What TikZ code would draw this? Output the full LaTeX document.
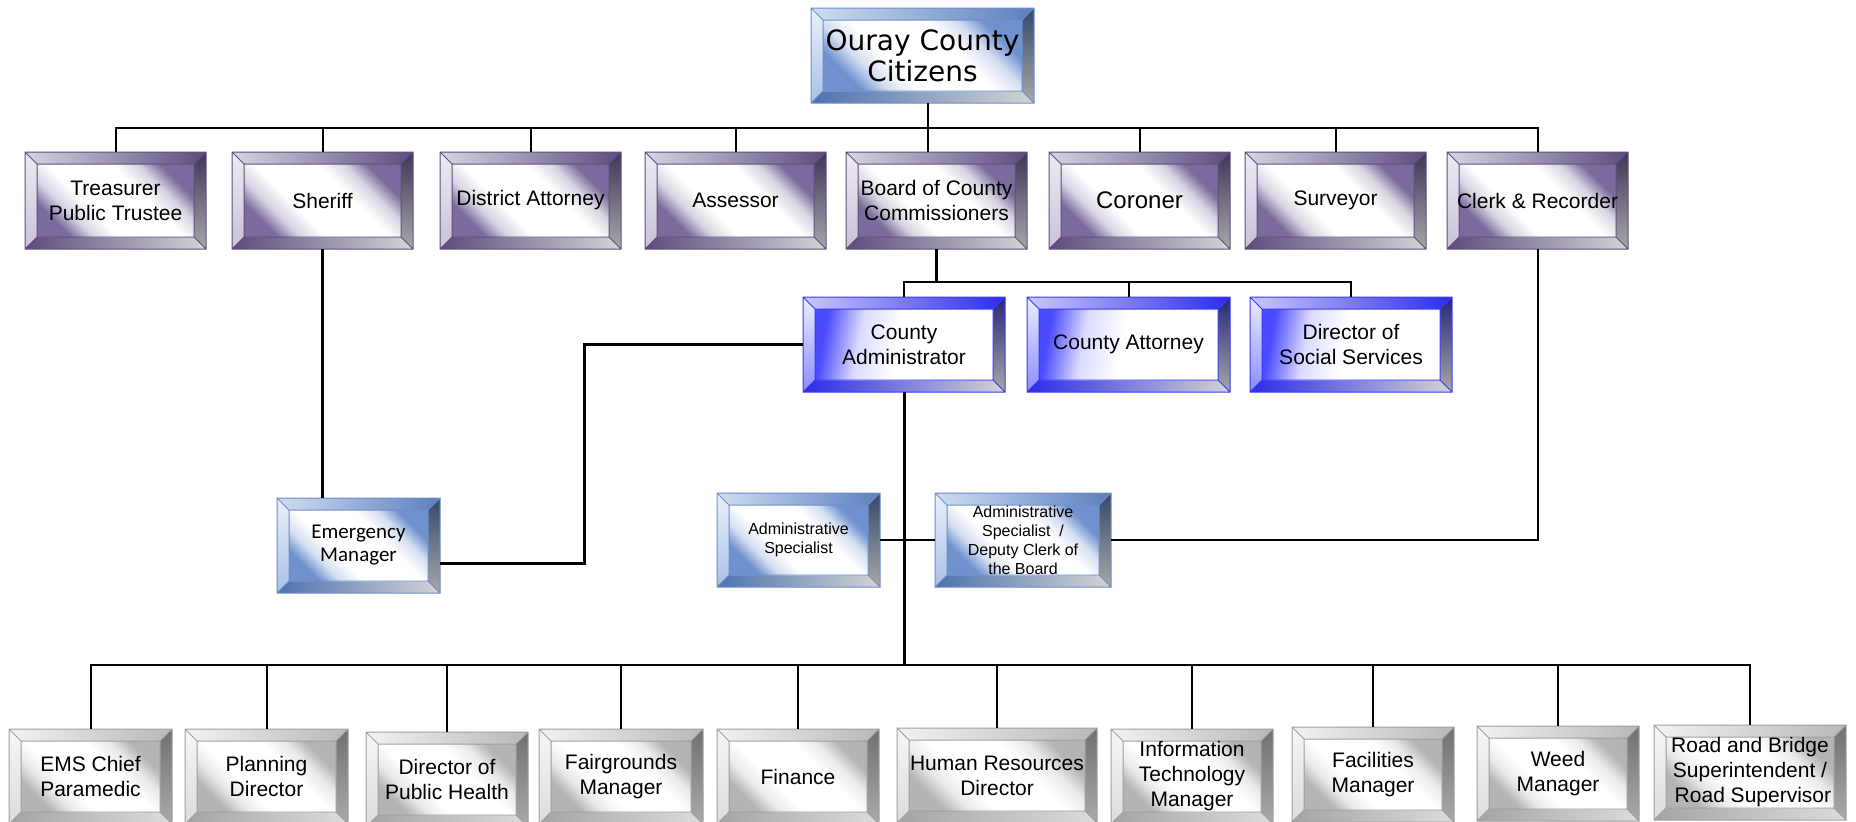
\documentclass[tikz,border=0pt]{standalone}
\usepackage{fontspec}
\setmainfont{Liberation Sans}
\newfontfamily\verd{DejaVu Sans}
\newfontfamily\calib{Carlito}
% purple group
\definecolor{puLN}{HTML}{5F5080}
\definecolor{puTL}{HTML}{D8D3E2}\definecolor{puTR}{HTML}{5C4B7E}
\definecolor{puLT}{HTML}{EEEBF3}\definecolor{puLB}{HTML}{C9C1D9}
\definecolor{puRT}{HTML}{3F3458}\definecolor{puRB}{HTML}{A8A8A8}
\definecolor{puBL}{HTML}{5C4B7E}\definecolor{puBR}{HTML}{D4D4D4}
\definecolor{puF}{HTML}{7A6B9C}
% steel blue group
\definecolor{sbLN}{HTML}{6F8FC8}
\definecolor{sbTL}{HTML}{D0DDF2}\definecolor{sbTR}{HTML}{5B7FBD}
\definecolor{sbLT}{HTML}{EAF0FA}\definecolor{sbLB}{HTML}{A9C0E6}
\definecolor{sbRT}{HTML}{34496B}\definecolor{sbRB}{HTML}{A8A8A8}
\definecolor{sbBL}{HTML}{4D72B0}\definecolor{sbBR}{HTML}{D4D4D4}
\definecolor{sbF}{HTML}{6F92CF}
% bright blue group
\definecolor{bbLN}{HTML}{3A3AF5}
\definecolor{bbTL}{HTML}{C8C8FF}\definecolor{bbTR}{HTML}{2B2BE8}
\definecolor{bbLT}{HTML}{ECECFF}\definecolor{bbLB}{HTML}{8A8AFF}
\definecolor{bbRT}{HTML}{26267A}\definecolor{bbRB}{HTML}{A8A8A8}
\definecolor{bbBL}{HTML}{2B2BE8}\definecolor{bbBR}{HTML}{D4D4D4}
\definecolor{bbF}{HTML}{4A4AFF}
% gray group
\definecolor{grLN}{HTML}{A0A0A0}
\definecolor{grTL}{HTML}{F2F2F2}\definecolor{grTR}{HTML}{B8B8B8}
\definecolor{grLT}{HTML}{F6F6F6}\definecolor{grLB}{HTML}{DCDCDC}
\definecolor{grRT}{HTML}{707070}\definecolor{grRB}{HTML}{AAAAAA}
\definecolor{grBL}{HTML}{A4A4A4}\definecolor{grBR}{HTML}{DCDCDC}
\definecolor{grF}{HTML}{B4B4B4}
\colorlet{puFl}{puF!30!white}
\colorlet{sbFl}{sbF!30!white}
\colorlet{grFl}{grF!30!white}
\colorlet{bbFl}{bbF!20!white}
\pgfdeclareverticalshading{pudiag}{100bp}{color(0bp)=(puF); color(25bp)=(puF); color(32bp)=(puFl); color(40bp)=(white); color(60bp)=(white); color(68bp)=(puFl); color(75bp)=(puF); color(100bp)=(puF)}
\pgfdeclareverticalshading{sbdiag}{100bp}{color(0bp)=(sbF); color(25bp)=(sbF); color(32bp)=(sbFl); color(40bp)=(white); color(60bp)=(white); color(68bp)=(sbFl); color(75bp)=(sbF); color(100bp)=(sbF)}
\pgfdeclareverticalshading{grdiag}{100bp}{color(0bp)=(grF); color(25bp)=(grF); color(32bp)=(grFl); color(40bp)=(white); color(60bp)=(white); color(68bp)=(grFl); color(75bp)=(grF); color(100bp)=(grF)}
\pgfdeclareverticalshading{bbdiag}{100bp}{color(0bp)=(white); color(52bp)=(white); color(64bp)=(bbFl); color(75bp)=(bbF); color(100bp)=(bbF)}
\tikzset{
  puface/.style={shading=pudiag, shading angle=-45},
  sbface/.style={shading=sbdiag, shading angle=-45},
  bbface/.style={shading=bbdiag, shading angle=80},
  grface/.style={shading=grdiag, shading angle=-45},
  conn/.style={line width=1pt, black},
  heavy/.style={line width=1.5pt, black},
}
\newcommand\fA{\fontsize{10.5}{12.5}\selectfont}
\newcommand\fCit{\verd\fontsize{14}{15.5}\selectfont}
\newcommand\fBig{\fontsize{12}{14}\selectfont}
\newcommand\fEm{\calib\fontsize{10.5}{11.5}\selectfont}
\newcommand\fSm{\fontsize{8}{9.5}\selectfont}
\newcommand\bevbox[8]{%
  \def\bv{12}%
  \shade[left color=#6TL, right color=#6TR] (#2,#3) -- (#4,#3) -- ({#4-\bv},{#3+\bv}) -- ({#2+\bv},{#3+\bv}) -- cycle;
  \shade[top color=#6LT, bottom color=#6LB] (#2,#3) -- ({#2+\bv},{#3+\bv}) -- ({#2+\bv},{#5-\bv}) -- (#2,#5) -- cycle;
  \shade[top color=#6RT, bottom color=#6RB] (#4,#3) -- (#4,#5) -- ({#4-\bv},{#5-\bv}) -- ({#4-\bv},{#3+\bv}) -- cycle;
  \shade[left color=#6BL, right color=#6BR] (#2,#5) -- ({#2+\bv},{#5-\bv}) -- ({#4-\bv},{#5-\bv}) -- (#4,#5) -- cycle;
  \shade[#6face] ({#2+\bv},{#3+\bv}) rectangle ({#4-\bv},{#5-\bv});
  \draw[#6LN, line width=0.5pt] (#2,#3) rectangle (#4,#5)
     ({#2+\bv},{#3+\bv}) rectangle ({#4-\bv},{#5-\bv})
     (#2,#3) -- ({#2+\bv},{#3+\bv}) (#4,#3) -- ({#4-\bv},{#3+\bv})
     (#2,#5) -- ({#2+\bv},{#5-\bv}) (#4,#5) -- ({#4-\bv},{#5-\bv});
  \node[minimum width={(#4-#2)*0.5pt}, minimum height={(#5-#3)*0.5pt}, inner sep=0pt,
        align=center, font=#7, text=black] (#1) at ({(#2+#4)/2},{(#3+#5)/2}) {#8};
}
\begin{document}
\begin{tikzpicture}[x=0.5pt, y=-0.5pt]
\useasboundingbox (0,0) rectangle (1856,821);
\fill[white] (0,0) rectangle (1856,821);
\clip (0,0) rectangle (1856,821);
% top
\bevbox{cit}{811}{8}{1034}{103}{sb}{\fCit}{Ouray County\\Citizens}
% row 1
\bevbox{trea}{25}{152}{206}{249}{pu}{\fA}{Treasurer\\Public Trustee}
\bevbox{sher}{232}{152}{413}{249}{pu}{\fA}{Sheriff}
\bevbox{da}{440}{152}{621}{249}{pu}{\fA}{District Attorney}
\bevbox{asse}{645}{152}{826}{249}{pu}{\fA}{Assessor}
\bevbox{board}{846}{152}{1027}{249}{pu}{\fA}{Board of County\\Commissioners}
\bevbox{coro}{1049}{152}{1230}{249}{pu}{\fBig}{Coroner}
\bevbox{surv}{1245}{152}{1426}{249}{pu}{\fA}{Surveyor}
\bevbox{clerk}{1447}{152}{1628}{249}{pu}{\fA}{Clerk \& Recorder}
% row 2
\bevbox{admin}{803}{297}{1005}{392}{bb}{\fA}{County\\Administrator}
\bevbox{atty}{1027}{297}{1230}{392}{bb}{\fA}{County Attorney}
\bevbox{social}{1250}{297}{1452}{392}{bb}{\fA}{Director of\\Social Services}
% middle
\bevbox{emer}{277}{498}{440}{593}{sb}{\fEm}{Emergency\\Manager}
\bevbox{adms}{717}{493}{880}{587}{sb}{\fSm}{Administrative\\Specialist}
\bevbox{dep}{935}{493}{1111}{587}{sb}{\fSm}{Administrative\\Specialist~~/\\Deputy Clerk of\\the Board}
% bottom row
\bevbox{ems}{9}{729}{172}{824}{gr}{\fA}{EMS Chief\\Paramedic}
\bevbox{plan}{185}{729}{348}{824}{gr}{\fA}{Planning\\Director}
\bevbox{ph}{366}{732}{528}{827}{gr}{\fA}{Director of\\Public Health}
\bevbox{fair}{539}{729}{703}{824}{gr}{\fA}{Fairgrounds\\Manager}
\bevbox{fin}{717}{729}{879}{824}{gr}{\fA}{Finance}
\bevbox{hr}{897}{728}{1097}{823}{gr}{\fA}{Human Resources\\Director}
\bevbox{it}{1111}{729}{1273}{824}{gr}{\fA}{Information\\Technology\\Manager}
\bevbox{fac}{1292}{727}{1454}{822}{gr}{\fA}{Facilities\\Manager}
\bevbox{weed}{1477}{726}{1639}{821}{gr}{\fA}{Weed\\Manager}
\bevbox{road}{1654}{725}{1846}{820}{gr}{\fA}{Road and Bridge\\Superintendent /\\\ Road Supervisor}
% connectors: top bus
\coordinate (tb) at (928,128);
\draw[conn] (cit.south -| tb) -- (tb |- board.north);
\draw[conn] (trea.north) |- (tb);
\draw[conn] (clerk.north) |- (tb);
\foreach \n in {sher,da,asse,coro,surv} \draw[conn] (\n.north) -- (\n.north |- tb);
% board to row 2
\coordinate (mb) at (936,282);
\draw[heavy] (board.south) -- (board.south |- mb);
\draw[conn] (admin.north) |- (mb) -| (social.north);
\draw[conn] (atty.north) -- (atty.north |- mb);
% admin to emergency
\coordinate (ae) at (584,563);
\draw[heavy] (admin.west) -| (ae) -- (ae -| emer.east);
\draw[heavy] (sher.south) -- (sher.south |- emer.north);
% specialists
\draw[conn] (adms.east) -- (dep.west);
\draw[conn] (dep.east) -| (clerk.south);
% admin to bottom bus
\coordinate (lb) at (904,665);
\draw[heavy] (admin.south) -- (admin.south |- lb);
\draw[conn] (ems.north) |- (lb) -| (road.north);
\foreach \n in {plan,ph,fair,fin,hr,it,fac,weed} \draw[conn] (\n.north) -- (\n.north |- lb);
\end{tikzpicture}
\end{document}
